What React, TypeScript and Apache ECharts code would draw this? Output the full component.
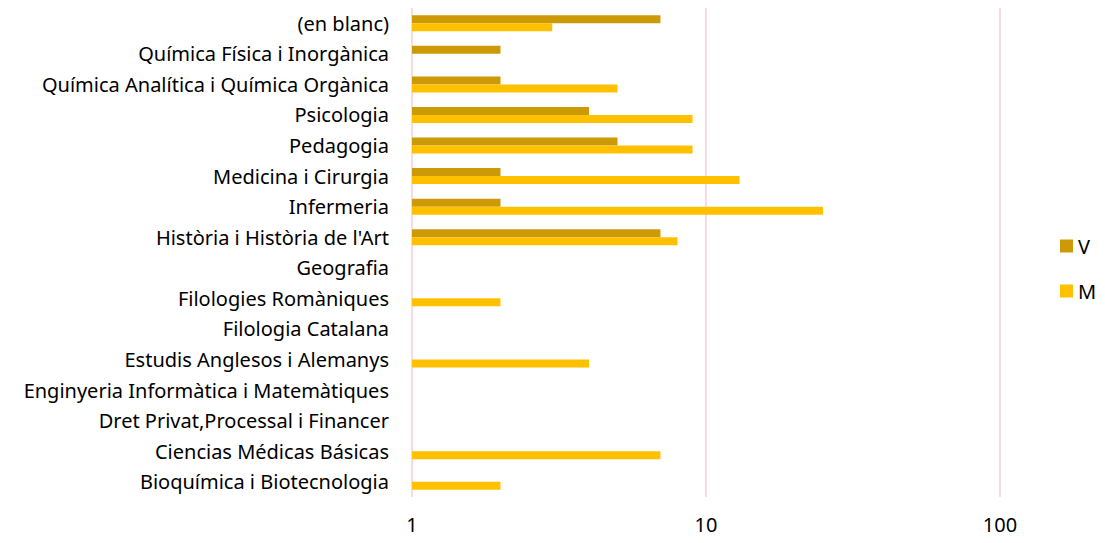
import React, { useEffect, useRef } from "react";
import * as echarts from "echarts";

const categories = [
  "Bioquímica i Biotecnologia",
  "Ciencias Médicas Básicas",
  "Dret Privat,Processal i Financer",
  "Enginyeria Informàtica i Matemàtiques",
  "Estudis Anglesos i Alemanys",
  "Filologia Catalana",
  "Filologies Romàniques",
  "Geografia",
  "Història i Història de l'Art",
  "Infermeria",
  "Medicina i Cirurgia",
  "Pedagogia",
  "Psicologia",
  "Química Analítica i Química Orgànica",
  "Química Física i Inorgànica",
  "(en blanc)",
];

const seriesV: (number | null)[] = [null, null, null, null, null, null, null, null, 7, 2, 2, 5, 4, 2, 2, 7];
const seriesM: (number | null)[] = [2, 7, null, null, 4, null, 2, null, 8, 25, 13, 9, 9, 5, null, 3];

const FONT = "Noto Sans";

export default function App() {
  const ref = useRef<HTMLDivElement>(null);
  useEffect(() => {
    if (!ref.current) return;
    const chart = echarts.init(ref.current, null, { renderer: "svg" });
    chart.setOption({
      animation: false,
      grid: { left: 412, right: 105, top: 8, bottom: 46, containLabel: false },
      legend: {
        orient: "vertical",
        left: 1060,
        top: 236,
        itemWidth: 13,
        itemHeight: 13,
        itemGap: 25,
        padding: 0,
        itemStyle: { borderWidth: 0 },
        icon: "rect",
        textStyle: { fontFamily: FONT, fontSize: 20, color: "#000" },
        data: ["V", "M"],
      },
      xAxis: {
        type: "log",
        logBase: 10,
        min: 1,
        max: 100,
        axisLine: { show: false },
        axisTick: { show: false },
        splitLine: { show: true, lineStyle: { color: "#F5CFD8", width: 1.5 } },
        axisLabel: { fontFamily: FONT, fontSize: 20, color: "#000", margin: 17 },
      },
      yAxis: {
        type: "category",
        data: categories,
        axisLine: { show: false },
        axisTick: { show: false },
        axisLabel: { fontFamily: FONT, fontSize: 20, color: "#000", margin: 23 },
      },
      series: [
        {
          name: "V",
          type: "bar",
          data: seriesV,
          barWidth: 8,
          barGap: "0%",
          itemStyle: { color: "#CC9A06" },
        },
        {
          name: "M",
          type: "bar",
          data: seriesM,
          barWidth: 8,
          barGap: "0%",
          itemStyle: { color: "#FFC000" },
        },
      ],
    });
    return () => chart.dispose();
  }, []);
  return <div ref={ref} style={{ width: 1105, height: 543, margin: -8 }} />;
}
